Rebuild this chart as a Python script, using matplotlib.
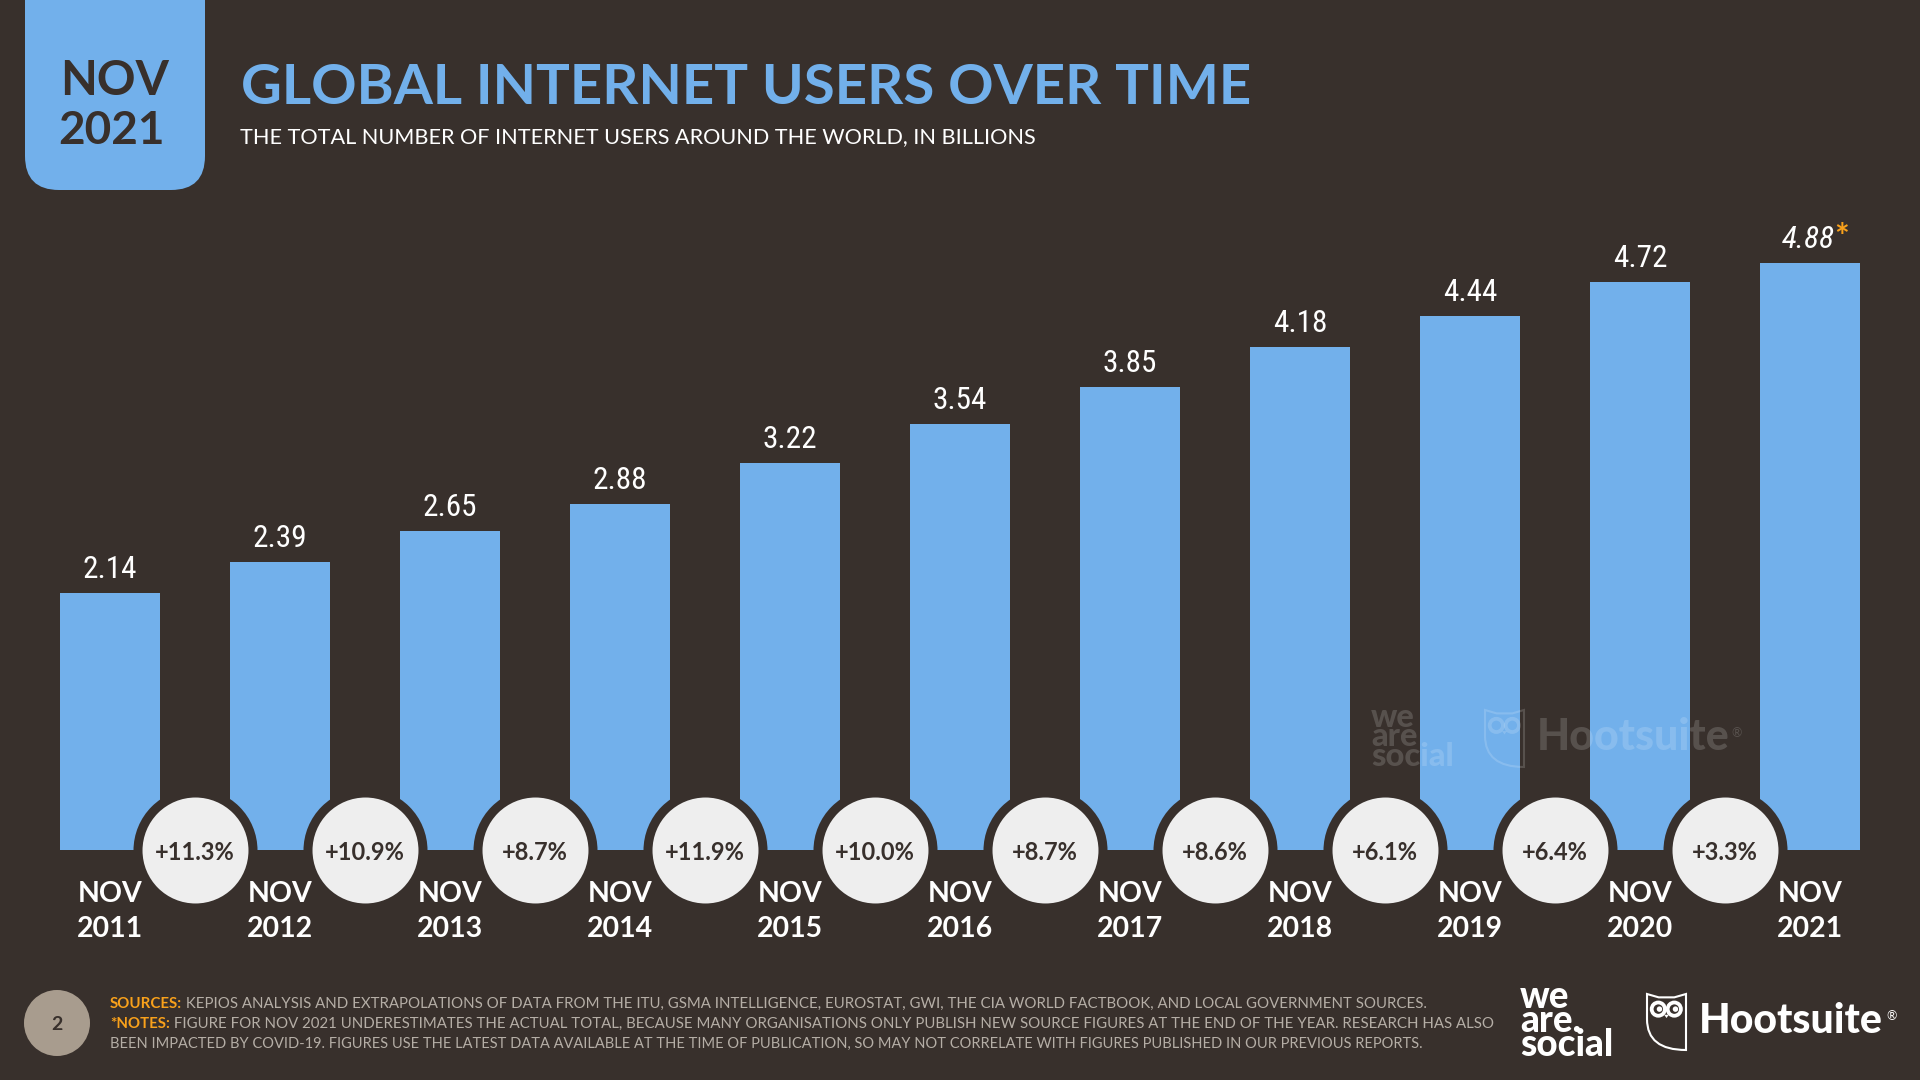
import matplotlib
matplotlib.use('Agg')
import matplotlib.pyplot as plt
from matplotlib import font_manager as fm
from matplotlib.patches import FancyBboxPatch, Circle, PathPatch, Polygon
from matplotlib.path import Path

years = ['2011', '2012', '2013', '2014', '2015', '2016', '2017', '2018', '2019', '2020', '2021']
users = [2.14, 2.39, 2.65, 2.88, 3.22, 3.54, 3.85, 4.18, 4.44, 4.72, 4.88]
growth = ['+11.3%', '+10.9%', '+8.7%', '+11.9%', '+10.0%', '+8.7%', '+8.6%', '+6.1%', '+6.4%', '+3.3%']
tick_labels = ['NOV\n' + y for y in years]

BG = '#38302C'
BLUE = '#72B0EB'
ORANGE = '#F9A11B'
GREY = '#B5AEA6'
DARK = '#38302C'

plt.rcParams['font.family'] = ['Lato', 'DejaVu Sans']


def first_font(names):
    # value labels want a narrow face, use whatever this machine has
    for n in names:
        try:
            fm.findfont(fm.FontProperties(family=n), fallback_to_default=False)
            return n
        except ValueError:
            pass
    return 'Lato'


NARROW = first_font(['Liberation Sans Narrow', 'Roboto Condensed', 'Open Sans Condensed', 'Lato'])
VAL_SIZE = 22.5 if NARROW != 'Lato' else 21

fig = plt.figure(figsize=(19.2, 10.8), dpi=100, facecolor=BG)

# bars: baseline at y=850px, 170px per year, 120.3px per billion
ax = fig.add_axes([0, 230 / 1080, 1, 650 / 1080])
ax.set_facecolor('none')
x = list(range(len(users)))
bars = ax.bar(x, users, width=100 / 170, color=BLUE, linewidth=0, zorder=2)
ax.set_xlim(-110 / 170, 1810 / 170)
ax.set_ylim(0, 650 / 120.3)

ax.bar_label(bars, labels=[f'{v:.2f}' for v in users[:-1]] + [''], padding=6.5,
             color='white', fontsize=VAL_SIZE, family=NARROW)
ax.annotate(f'{users[-1]:.2f}', (x[-1], users[-1]), xytext=(-1.5, 6.5), textcoords='offset points',
            ha='center', va='bottom', color='white', fontsize=VAL_SIZE, style='italic', family=NARROW)
ax.annotate('*', (x[-1], users[-1]), xytext=(23, 11), textcoords='offset points',
            ha='center', va='baseline', color=ORANGE, fontsize=25, fontweight='bold')

mid = [i + 0.5 for i in x[:-1]]
ax.scatter(mid, [0] * len(mid), s=89.3 ** 2, color=BG, linewidth=0, zorder=3, clip_on=False)
ax.scatter(mid, [0] * len(mid), s=76.3 ** 2, color='#EEEEEE', linewidth=0, zorder=4, clip_on=False)
for m, g in zip(mid, growth):
    ax.annotate(g, (m, 0), xytext=(0, -2), textcoords='offset points', ha='center', va='center',
                color=DARK, fontsize=17, fontweight='bold', zorder=5, annotation_clip=False)

ax.set_xticks(x, tick_labels)
ax.tick_params(axis='x', length=0, pad=22, labelsize=20.5, labelcolor='white')
for lab in ax.get_xticklabels():
    lab.set_fontweight('bold')
    lab.set_linespacing(1.45)
ax.set_yticks([])
for s in ax.spines.values():
    s.set_visible(False)

# overlay in pixel coordinates for header, footer and logos
ov = fig.add_axes([0, 0, 1, 1], zorder=10)
ov.set_xlim(0, 1920)
ov.set_ylim(1080, 0)
ov.axis('off')

ov.add_patch(FancyBboxPatch((25, -80), 180, 270, boxstyle='round,pad=0,rounding_size=34',
                            fc=BLUE, ec='none'))
ov.text(115, 81, 'NOV', ha='center', va='center', color=DARK, fontsize=34.5, fontweight='bold')
ov.text(112, 131, '2021', ha='center', va='center', color=DARK, fontsize=33, fontweight='bold')

ov.text(241, 88, 'GLOBAL INTERNET USERS OVER TIME', ha='left', va='center', color=BLUE,
        fontsize=40.6, fontweight='bold')
ov.text(240, 137, 'THE TOTAL NUMBER OF INTERNET USERS AROUND THE WORLD, IN BILLIONS', ha='left',
        va='center', color='white', fontsize=15.6)


def shield(a, x0, y0, w, h, color, alpha=1.0, lw=1.5, pupils=True):
    # owl badge next to the Hootsuite wordmark
    codes = [Path.MOVETO, Path.LINETO, Path.LINETO, Path.LINETO, Path.LINETO, Path.LINETO,
             Path.CURVE3, Path.CURVE3, Path.CLOSEPOLY]
    verts = [(x0, y0), (x0 + w * 0.3, y0 + h * 0.06), (x0 + w * 0.7, y0 + h * 0.06), (x0 + w, y0),
             (x0 + w, y0 + h), (x0 + w, y0 + h),
             (x0, y0 + h), (x0, y0 + h * 0.45), (x0, y0)]
    a.add_patch(PathPatch(Path(verts, codes), fc='none', ec=color, lw=lw, alpha=alpha))
    for ex in (0.29, 0.70):
        a.add_patch(Circle((x0 + w * ex, y0 + h * 0.27), w * 0.17, fc='none', ec=color, lw=lw + 1.2, alpha=alpha))
        if pupils:
            a.add_patch(Circle((x0 + w * (ex + 0.03), y0 + h * 0.27), w * 0.07, fc=color, ec='none', alpha=alpha))
    a.add_patch(Polygon([(x0 + w * 0.44, y0 + h * 0.37), (x0 + w * 0.56, y0 + h * 0.37),
                         (x0 + w * 0.5, y0 + h * 0.43)], fc=color, ec='none', alpha=alpha))


# watermark
wm = 0.16
ov.text(1371, 737, 'we\nare\nsocial', ha='left', va='center', color='white', fontsize=23.5,
        fontweight='black', alpha=wm, linespacing=0.6)
shield(ov, 1485, 710, 39, 57, 'white', alpha=wm, pupils=False)
ov.text(1537, 737, 'Hootsuite', ha='left', va='center', color='white', fontsize=31, fontweight='black', alpha=wm)
ov.text(1731, 733, '®', ha='left', va='center', color='white', fontsize=9, alpha=wm)

# footer
ov.add_patch(Circle((57, 1023), 33, fc='#A89C8E', ec='none'))
ov.text(57, 1024, '2', ha='center', va='center', color=DARK, fontsize=14, fontweight='bold')

foot_lines = [
    ('SOURCES:', ' KEPIOS ANALYSIS AND EXTRAPOLATIONS OF DATA FROM THE ITU, GSMA INTELLIGENCE, EUROSTAT, GWI, THE CIA WORLD FACTBOOK, AND LOCAL GOVERNMENT SOURCES.', 1004, 10.8),
    ('*NOTES:', ' FIGURE FOR NOV 2021 UNDERESTIMATES THE ACTUAL TOTAL, BECAUSE MANY ORGANISATIONS ONLY PUBLISH NEW SOURCE FIGURES AT THE END OF THE YEAR. RESEARCH HAS ALSO', 1024, 10.8),
    ('', 'BEEN IMPACTED BY COVID-19. FIGURES USE THE LATEST DATA AVAILABLE AT THE TIME OF PUBLICATION, SO MAY NOT CORRELATE WITH FIGURES PUBLISHED IN OUR PREVIOUS REPORTS.', 1044, 10.5),
]
for head, body, yy, size in foot_lines:
    t = ov.text(110, yy, head, ha='left', va='center', color=ORANGE, fontsize=size, fontweight='bold')
    ov.annotate(body, xy=(1, 0.5), xycoords=t, ha='left', va='center', color=GREY, fontsize=size)

ov.text(1520, 1021, 'we\nare.\nsocial', ha='left', va='center', color='white', fontsize=26.5,
        fontweight='black', linespacing=0.63)
shield(ov, 1647, 994, 39, 56, 'white', lw=1.5)
ov.text(1699, 1021, 'Hootsuite', ha='left', va='center', color='white', fontsize=29.5, fontweight='black')
ov.text(1886, 1016, '®', ha='left', va='center', color='white', fontsize=9)

fig.savefig('out.png', dpi=100, facecolor=BG)
